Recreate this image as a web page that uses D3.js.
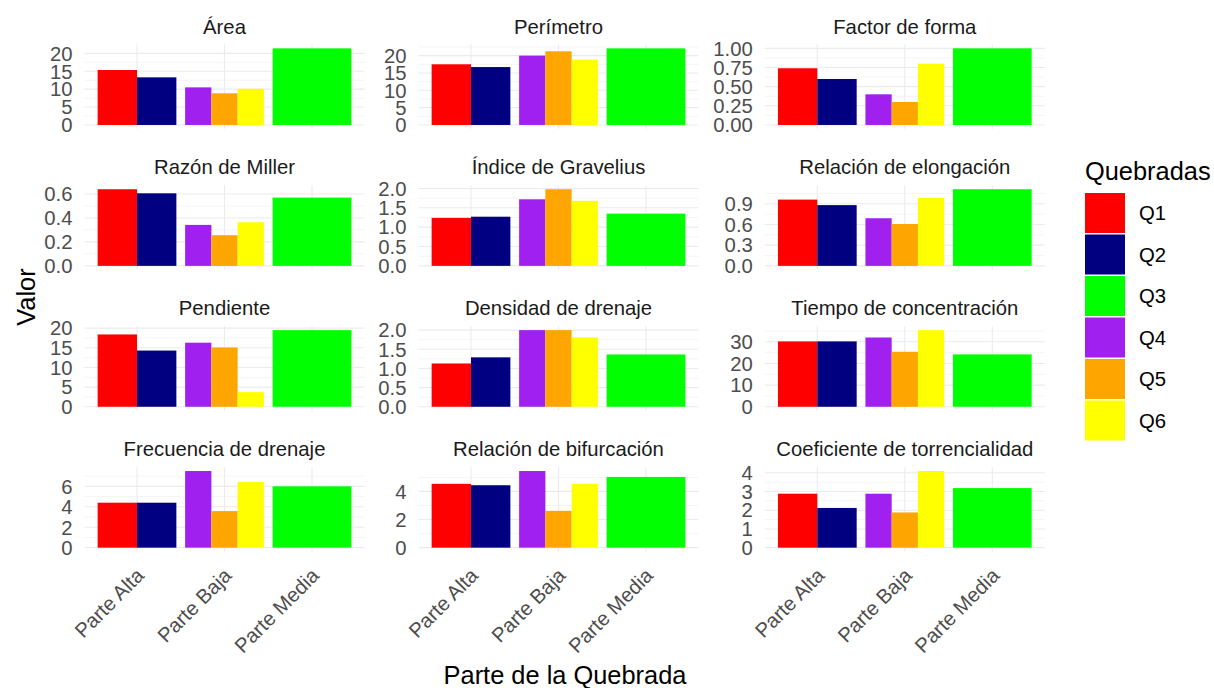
<!DOCTYPE html>
<html>
<head>
<meta charset="utf-8">
<script src="https://cdn.jsdelivr.net/npm/d3@7"></script>
<style>
  html, body { margin: 0; padding: 0; background: #fff; }
  svg { display: block; font-family: "Liberation Sans", Arial, sans-serif; }
</style>
</head>
<body>
<svg id="chart" width="1214" height="688"></svg>
<script>
// Morphometric parameters of six creeks, grouped by section of the creek.
const metrics = [
  "Área", "Perímetro", "Factor de forma",
  "Razón de Miller", "Índice de Gravelius", "Relación de elongación",
  "Pendiente", "Densidad de drenaje", "Tiempo de concentración",
  "Frecuencia de drenaje", "Relación de bifurcación", "Coeficiente de torrencialidad"
];
const partes = ["Parte Alta", "Parte Baja", "Parte Media"];
const quebradas = ["Q1", "Q2", "Q3", "Q4", "Q5", "Q6"];
const partePorQuebrada = ["Parte Alta", "Parte Alta", "Parte Media", "Parte Baja", "Parte Baja", "Parte Baja"];
const colores = ["#FF0000", "#000080", "#00FF00", "#A020F0", "#FFA500", "#FFFF00"];

// One value per metric (same order as `metrics`) for each creek
const valoresQ1 = [15.35, 17.5, 0.74, 0.64, 1.24, 0.96, 18.4, 1.13, 30.2, 4.4, 4.54, 2.88];
const valoresQ2 = [13.3, 16.7, 0.60, 0.606, 1.27, 0.88, 14.3, 1.29, 30.2, 4.4, 4.44, 2.12];
const valoresQ3 = [21.4, 22.1, 1.00, 0.57, 1.35, 1.11, 19.5, 1.365, 24.2, 6.0, 5.03, 3.18];
const valoresQ4 = [10.5, 20.0, 0.40, 0.342, 1.72, 0.69, 16.3, 2.0, 32.0, 7.5, 5.45, 2.88];
const valoresQ5 = [8.84, 21.25, 0.30, 0.256, 1.98, 0.606, 15.1, 2.0, 25.4, 3.58, 2.62, 1.88];
const valoresQ6 = [10.1, 18.85, 0.80, 0.364, 1.68, 0.985, 3.73, 1.81, 35.4, 6.42, 4.54, 4.09];
const valores = [valoresQ1, valoresQ2, valoresQ3, valoresQ4, valoresQ5, valoresQ6];

// Y-axis tick labels of each panel
const ticksArea = ["0", "5", "10", "15", "20"];
const ticksPerimetro = ["0", "5", "10", "15", "20"];
const ticksFactor = ["0.00", "0.25", "0.50", "0.75", "1.00"];
const ticksMiller = ["0.0", "0.2", "0.4", "0.6"];
const ticksGravelius = ["0.0", "0.5", "1.0", "1.5", "2.0"];
const ticksElongacion = ["0.0", "0.3", "0.6", "0.9"];
const ticksPendiente = ["0", "5", "10", "15", "20"];
const ticksDensidad = ["0.0", "0.5", "1.0", "1.5", "2.0"];
const ticksTiempo = ["0", "10", "20", "30"];
const ticksFrecuencia = ["0", "2", "4", "6"];
const ticksBifurcacion = ["0", "2", "4"];
const ticksTorrencialidad = ["0", "1", "2", "3", "4"];
const ticksPorPanel = [
  ticksArea, ticksPerimetro, ticksFactor, ticksMiller, ticksGravelius, ticksElongacion,
  ticksPendiente, ticksDensidad, ticksTiempo, ticksFrecuencia, ticksBifurcacion, ticksTorrencialidad
];

// ---- layout ----
const svg = d3.select("#chart");
const colLeft = [84.5, 418.5, 764.8];
const rowTop = [44.5, 185.4, 326.3, 467.2];
const panelW = 280, panelH = 84.3;
const gridColor = "#EBEBEB";
const axisTextSize = 20.3, titleSize = 25.4;

metrics.forEach((metric, m) => {
  const col = m % 3, row = Math.floor(m / 3);
  const x0 = colLeft[col], y0 = rowTop[row];
  const g = svg.append("g").attr("transform", `translate(${x0},${y0})`);

  const rows = quebradas.map((q, i) => ({ q, i, parte: partePorQuebrada[i], v: valores[i][m] }));
  const maxV = d3.max(rows, d => d.v);

  const x = d3.scalePoint().domain(partes).range([0, panelW]).padding(0.6);
  const step = x.step();
  const y = d3.scaleLinear().domain([-0.05 * maxV, 1.05 * maxV]).range([panelH, 0]);

  // grid: minor lines halfway between major breaks, then major lines
  const majors = ticksPorPanel[m].map(Number);
  const d = majors[1] - majors[0];
  const minors = [majors[0] - d / 2, ...majors.map(t => t + d / 2)]
    .filter(t => t >= y.domain()[0] && t <= y.domain()[1]);
  g.selectAll("line.minor").data(minors).join("line")
    .attr("x1", 0).attr("x2", panelW)
    .attr("y1", t => y(t)).attr("y2", t => y(t))
    .attr("stroke", gridColor).attr("stroke-width", 0.55);
  g.selectAll("line.major").data(majors).join("line")
    .attr("x1", 0).attr("x2", panelW)
    .attr("y1", t => y(t)).attr("y2", t => y(t))
    .attr("stroke", gridColor).attr("stroke-width", 1.1);
  g.selectAll("line.vmajor").data(partes).join("line")
    .attr("x1", p => x(p)).attr("x2", p => x(p))
    .attr("y1", 0).attr("y2", panelH)
    .attr("stroke", gridColor).attr("stroke-width", 1.1);

  // dodged bars: each section splits 0.9 of the step among its creeks
  const porParte = d3.group(rows, r => r.parte);
  porParte.forEach((grp, parte) => {
    const w = 0.9 * step / grp.length;
    const start = x(parte) - 0.45 * step;
    g.selectAll(null).data(grp).join("rect")
      .attr("x", (r, k) => start + k * w)
      .attr("width", w)
      .attr("y", r => y(r.v))
      .attr("height", r => y(0) - y(r.v))
      .attr("fill", r => colores[r.i]);
  });

  // y-axis labels
  g.selectAll("text.ytick").data(ticksPorPanel[m]).join("text")
    .attr("x", -12).attr("y", t => y(+t))
    .attr("dy", "0.36em")
    .attr("text-anchor", "end")
    .attr("font-size", axisTextSize)
    .attr("fill", "#4D4D4D")
    .text(t => t);

  // strip title
  g.append("text")
    .attr("x", panelW / 2).attr("y", -11)
    .attr("text-anchor", "middle")
    .attr("font-size", axisTextSize)
    .attr("fill", "#1A1A1A")
    .text(metric);

  // x-axis labels only on the bottom row
  if (row === 3) {
    g.selectAll("text.xtick").data(partes).join("text")
      .attr("text-anchor", "end")
      .attr("font-size", axisTextSize)
      .attr("fill", "#4D4D4D")
      .attr("transform", p => `translate(${x(p) - 2},${panelH + 15}) rotate(-45)`)
      .attr("dy", "0.72em")
      .text(p => p);
  }
});

// axis titles
svg.append("text")
  .attr("x", 565).attr("y", 684)
  .attr("text-anchor", "middle")
  .attr("font-size", titleSize)
  .attr("fill", "#000")
  .text("Parte de la Quebrada");
svg.append("text")
  .attr("transform", "translate(35,297) rotate(-90)")
  .attr("text-anchor", "middle")
  .attr("font-size", titleSize)
  .attr("fill", "#000")
  .text("Valor");

// legend
const legend = svg.append("g").attr("transform", "translate(1085,193)");
legend.append("text")
  .attr("x", 0).attr("y", -13)
  .attr("font-size", titleSize)
  .attr("fill", "#000")
  .text("Quebradas");
const keyStep = 41.5, keySize = 40;
legend.selectAll("rect").data(quebradas).join("rect")
  .attr("x", 0).attr("y", (q, i) => i * keyStep)
  .attr("width", keySize).attr("height", keySize)
  .attr("fill", (q, i) => colores[i]);
legend.selectAll("text.lab").data(quebradas).join("text")
  .attr("x", keySize + 14).attr("y", (q, i) => i * keyStep + keySize / 2)
  .attr("dy", "0.36em")
  .attr("font-size", axisTextSize)
  .attr("fill", "#000")
  .text(q => q);
</script>
</body>
</html>
